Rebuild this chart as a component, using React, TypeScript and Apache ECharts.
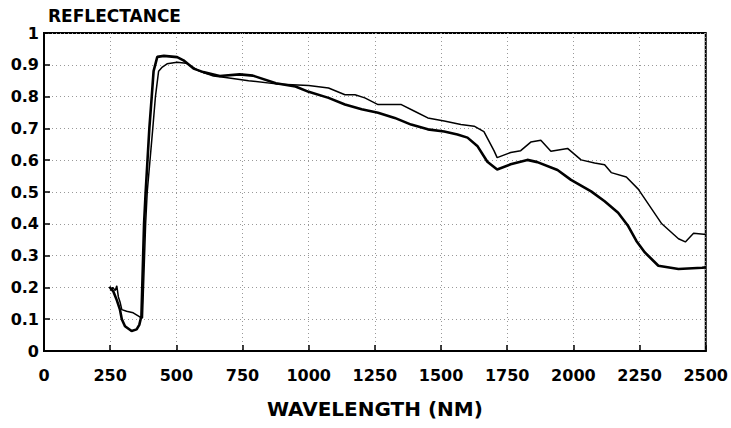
import React, { useEffect, useRef } from "react";
import * as echarts from "echarts";

const xTicks = { min: 0, max: 2500, interval: 250 };
const yTicks = { min: 0, max: 1, interval: 0.1 };

const yAxisTitle = "REFLECTANCE";
const xAxisTitle = "WAVELENGTH (NM)";

// Sample A (heavier line, lower in the SWIR)
const sampleA: [number, number][] = [
  [247, 0.202], [262, 0.187], [275, 0.16], [287, 0.13], [294, 0.1], [306, 0.078],
  [331, 0.063], [350, 0.068], [360, 0.082], [368, 0.11], [378, 0.4], [384, 0.5],
  [398, 0.7], [407, 0.8], [414, 0.88], [428, 0.925], [453, 0.928], [503, 0.924],
  [527, 0.914], [565, 0.888], [602, 0.877], [664, 0.865], [739, 0.87], [789, 0.866],
  [876, 0.842], [950, 0.832], [1000, 0.815], [1075, 0.796], [1137, 0.775],
  [1200, 0.76], [1262, 0.749], [1325, 0.733], [1387, 0.712], [1450, 0.697],
  [1512, 0.69], [1562, 0.681], [1600, 0.671], [1637, 0.645], [1675, 0.595],
  [1712, 0.571], [1763, 0.587], [1826, 0.601], [1864, 0.594], [1940, 0.569],
  [1991, 0.538], [2067, 0.502], [2118, 0.471], [2169, 0.435], [2207, 0.393],
  [2238, 0.346], [2270, 0.31], [2321, 0.268], [2397, 0.258], [2486, 0.262], [2500, 0.263],
];

// Sample B (thinner line, higher in the SWIR)
const sampleB: [number, number][] = [
  [250, 0.19], [260, 0.2], [269, 0.19], [275, 0.205], [281, 0.17], [287, 0.155],
  [294, 0.13], [312, 0.125], [337, 0.12], [362, 0.107], [372, 0.104], [384, 0.4],
  [390, 0.5], [411, 0.7], [421, 0.8], [433, 0.88], [447, 0.893], [465, 0.903],
  [503, 0.908], [537, 0.905], [587, 0.88], [640, 0.865], [686, 0.86], [773, 0.85],
  [876, 0.84], [1000, 0.835], [1075, 0.827], [1137, 0.806], [1175, 0.806],
  [1212, 0.796], [1262, 0.775], [1350, 0.775], [1400, 0.754], [1450, 0.733],
  [1512, 0.723], [1575, 0.712], [1625, 0.707], [1662, 0.69], [1700, 0.63],
  [1712, 0.608], [1763, 0.624], [1801, 0.63], [1839, 0.657], [1877, 0.663],
  [1915, 0.628], [1978, 0.637], [2029, 0.601], [2080, 0.591], [2118, 0.586],
  [2143, 0.561], [2200, 0.547], [2245, 0.509], [2334, 0.4], [2397, 0.353],
  [2423, 0.343], [2454, 0.37], [2492, 0.367], [2500, 0.367],
];

const FONT = "'DejaVu Sans', sans-serif";

export default function App() {
  const ref = useRef<HTMLDivElement>(null);
  useEffect(() => {
    if (!ref.current) return;
    const chart = echarts.init(ref.current, null, { renderer: "svg" });
    chart.setOption({
      animation: false,
      backgroundColor: "#fff",
      grid: {
        left: 44,
        right: 24,
        top: 33,
        bottom: 77,
        show: true,
        borderColor: "#000",
        borderWidth: 2,
      },
      graphic: [
        {
          type: "text",
          left: 48,
          top: 7,
          style: {
            text: yAxisTitle,
            font: `bold 17px ${FONT}`,
            fill: "#000",
          },
        },
      ],
      xAxis: {
        type: "value",
        min: xTicks.min,
        max: xTicks.max,
        interval: xTicks.interval,
        name: xAxisTitle,
        nameLocation: "middle",
        nameGap: 48,
        nameTextStyle: { fontFamily: FONT, fontWeight: "bold", fontSize: 20, color: "#000" },
        axisLine: { show: true, lineStyle: { color: "#000", width: 2 } },
        axisTick: { show: true, inside: true, length: 6, lineStyle: { color: "#000", width: 1.5 } },
        axisLabel: {
          fontFamily: FONT,
          fontWeight: "bold",
          fontSize: 16,
          color: "#000",
          margin: 16,
          formatter: (v: number) => String(v),
        },
        splitLine: { show: true, lineStyle: { color: "#999", type: [1, 3], width: 1 } },
      },
      yAxis: {
        type: "value",
        min: yTicks.min,
        max: yTicks.max,
        interval: yTicks.interval,
        axisLine: { show: true, lineStyle: { color: "#000", width: 2 } },
        axisTick: { show: true, inside: true, length: 6, lineStyle: { color: "#000", width: 1.5 } },
        axisLabel: {
          fontFamily: FONT,
          fontWeight: "bold",
          fontSize: 16,
          color: "#000",
          margin: 5,
          formatter: (v: number) => String(Math.round(v * 10) / 10),
        },
        splitLine: { show: true, lineStyle: { color: "#999", type: [1, 3], width: 1 } },
      },
      series: [
        {
          name: "A",
          type: "line",
          data: sampleA,
          showSymbol: false,
          smooth: false,
          lineStyle: { color: "#000", width: 2.6 },
        },
        {
          name: "B",
          type: "line",
          data: sampleB,
          showSymbol: false,
          smooth: false,
          lineStyle: { color: "#000", width: 1.5 },
        },
      ],
    });
    return () => chart.dispose();
  }, []);
  return <div ref={ref} style={{ width: 731, height: 428, position: "absolute", left: 0, top: 0 }} />;
}
